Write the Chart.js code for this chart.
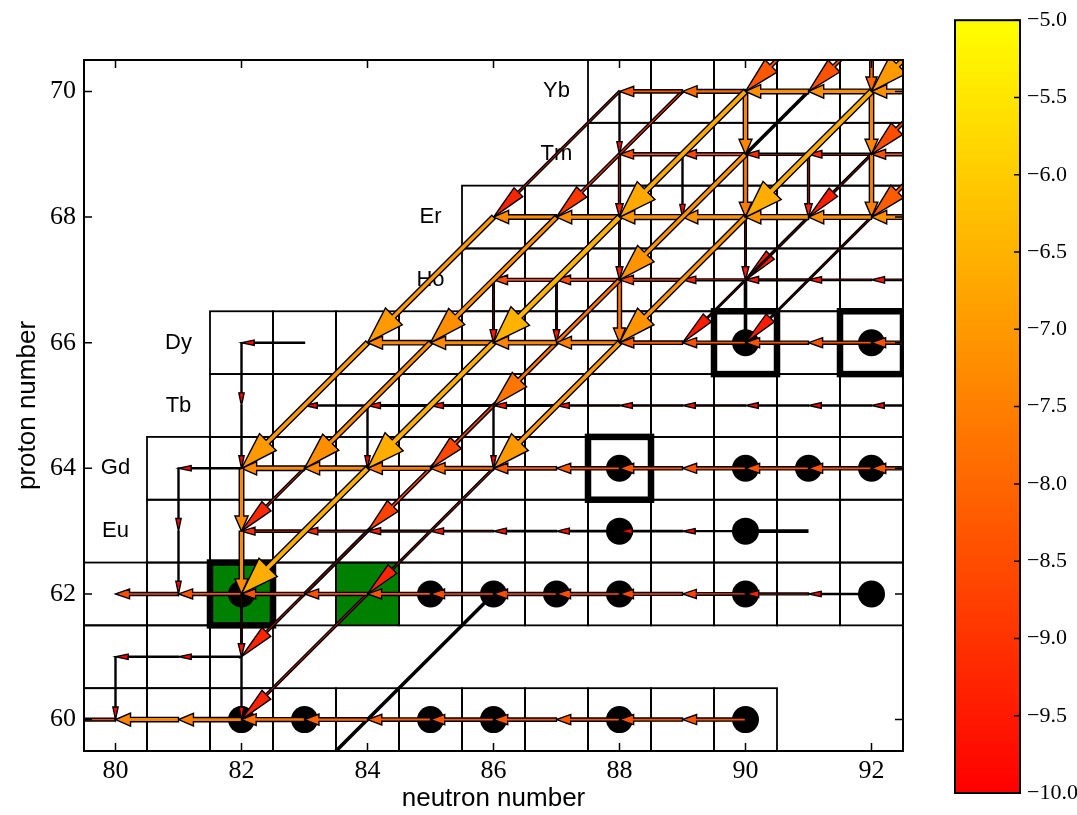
<!DOCTYPE html>
<html>
<head>
<meta charset="utf-8">
<script src="https://cdn.jsdelivr.net/npm/chart.js@4.4.1/dist/chart.umd.min.js"></script>
<style>
  html, body { margin: 0; padding: 0; background: #fff; }
  #main { position: absolute; left: 0; top: 0; }
  #cbar { position: absolute; left: 940px; top: 0; }
</style>
</head>
<body>
<canvas id="main" width="1077" height="815"></canvas>
<canvas id="cbar" width="137" height="815"></canvas>
<script>
// ---- axis ticks ----
const neutronTicks = [80, 82, 84, 86, 88, 90, 92];
const protonTicks = [60, 62, 64, 66, 68, 70];
const colorbarTicks = [-5.0, -5.5, -6.0, -6.5, -7.0, -7.5, -8.0, -8.5, -9.0, -9.5, -10.0];
const flowMin = -10;
const flowMax = -5;

// ---- nuclide cells: one row per proton number, first and last neutron number ----
const rowZ   = [70, 69, 68, 67, 66, 65, 64, 63, 62, 61, 60];
const rowNlo = [88, 88, 86, 86, 82, 82, 81, 81, 80, 80, 80];
const rowNhi = [92, 92, 92, 92, 92, 92, 92, 92, 92, 82, 90];

// ---- element symbols ----
const elementZ   = [70, 69, 68, 67, 66, 65, 64, 63];
const elementSym = ['Yb', 'Tm', 'Er', 'Ho', 'Dy', 'Tb', 'Gd', 'Eu'];

// ---- stable nuclei ----
const stableN = [90, 92, 88, 90, 91, 92, 88, 90, 82, 85, 86, 87, 88, 90, 92, 82, 83, 85, 86, 88, 90];
const stableZ = [66, 66, 64, 64, 64, 64, 63, 63, 62, 62, 62, 62, 62, 62, 62, 60, 60, 60, 60, 60, 60];

// ---- p-nuclei (framed) and shaded cells ----
const pNucleiN = [82, 88, 90, 92];
const pNucleiZ = [62, 64, 66, 66];
const shadedN = [82, 84];
const shadedZ = [62, 62];

// ---- reaction flows: [N, Z, log10 flow] of the decaying nucleus ----
// (gamma,n): (N,Z) -> (N-1,Z)
const flowGammaN = [
  [93, 70, -7.2], [92, 70, -7.2], [91, 70, -7.2], [90, 70, -7.9], [89, 70, -8.3],
  [93, 69, -8.4], [92, 69, -9.2], [91, 69, -9.2], [90, 69, -8.6], [89, 69, -8.5],
  [93, 68, -7.2], [92, 68, -7.2], [91, 68, -7.1], [90, 68, -7.1], [89, 68, -7.1], [88, 68, -7.2], [87, 68, -7.3],
  [93, 67, -9.6], [92, 67, -9.6], [91, 67, -9.5], [90, 67, -9.3], [89, 67, -8.6], [88, 67, -8.5], [87, 67, -8.5],
  [93, 66, -8.4], [92, 66, -8.4], [91, 66, -8.4], [90, 66, -8.4], [89, 66, -8.2], [88, 66, -7.5], [87, 66, -7.4],
  [86, 66, -7.3], [85, 66, -7.4], [83, 66, -10.2],
  [93, 65, -9.9], [92, 65, -9.9], [91, 65, -9.9], [90, 65, -9.8], [89, 65, -9.8], [88, 65, -9.8], [87, 65, -9.7],
  [86, 65, -9.7], [85, 65, -9.7], [84, 65, -9.9],
  [93, 64, -8.3], [92, 64, -8.4], [91, 64, -8.4], [90, 64, -8.4], [89, 64, -8.3], [88, 64, -8.3], [87, 64, -8.2],
  [86, 64, -7.9], [85, 64, -7.6], [84, 64, -7.3], [83, 64, -7.3], [82, 64, -10.2],
  [91, 63, -10.6], [90, 63, -10.0], [89, 63, -9.9], [88, 63, -9.8], [87, 63, -9.7], [86, 63, -9.6], [85, 63, -9.5],
  [84, 63, -9.3], [83, 63, -9.1],
  [92, 62, -10.1], [91, 62, -9.4], [90, 62, -8.7], [89, 62, -8.6], [88, 62, -8.5], [87, 62, -8.5], [86, 62, -8.5],
  [85, 62, -8.4], [84, 62, -8.4], [83, 62, -8.4], [82, 62, -8.4], [81, 62, -8.5],
  [82, 61, -10.3], [81, 61, -10.3],
  [90, 60, -8.4], [89, 60, -8.4], [88, 60, -8.3], [87, 60, -8.3], [86, 60, -8.3], [85, 60, -8.2], [84, 60, -8.0],
  [83, 60, -7.8], [82, 60, -7.5], [81, 60, -7.4], [80, 60, -8.6]
];
// (gamma,p): (N,Z) -> (N,Z-1)
const flowGammaP = [
  [92, 71, -8.0], [92, 70, -7.4], [90, 70, -7.4], [88, 70, -10.0],
  [92, 69, -7.5], [91, 69, -9.3], [90, 69, -7.6], [89, 69, -10.2], [88, 69, -9.3],
  [90, 68, -9.5], [88, 68, -9.5],
  [90, 67, -10.6], [88, 67, -7.7], [87, 67, -9.6], [86, 67, -9.5],
  [82, 66, -10.2],
  [86, 65, -10.2], [84, 65, -10.2], [82, 65, -10.2],
  [82, 64, -7.3], [81, 64, -10.3],
  [82, 63, -7.3], [81, 63, -10.3],
  [82, 62, -9.6],
  [82, 61, -10.2], [80, 61, -10.3]
];
// (gamma,alpha): (N,Z) -> (N-2,Z-2)
const flowGammaA = [
  [94, 72, -7.0], [93, 72, -8.4], [92, 72, -8.3], [94, 71, -8.5],
  [94, 70, -8.2], [93, 70, -9.4], [92, 70, -6.6], [91, 70, -10.8], [90, 70, -6.7], [89, 70, -8.9], [88, 70, -9.3],
  [92, 69, -9.5], [90, 69, -7.1],
  [92, 68, -9.5], [91, 68, -9.5], [90, 68, -7.1], [88, 68, -6.5], [87, 68, -7.2], [86, 68, -7.0],
  [88, 67, -7.7],
  [88, 66, -7.0], [87, 66, -8.6], [86, 66, -6.6], [85, 66, -7.2], [84, 66, -7.0],
  [86, 65, -8.7], [84, 65, -9.2],
  [86, 64, -9.3], [85, 64, -10.8], [84, 64, -6.6],
  [84, 63, -9.3],
  [86, 62, -10.8], [84, 62, -9.3], [84, 60, -10.8]
];

// flows weaker than this are drawn as plain black lines
const lineOnlyBelow = -10.5;

function flowFraction(v) {
  return Math.max(0, Math.min(1, (v - flowMin) / (flowMax - flowMin)));
}
// 'autumn' colour map: red -> yellow
function flowColor(v) {
  return 'rgb(255,' + Math.round(255 * flowFraction(v)) + ',0)';
}

function drawArrow(ctx, x0, y0, x1, y1, v) {
  const dx = x1 - x0, dy = y1 - y0;
  const L = Math.hypot(dx, dy);
  const ux = dx / L, uy = dy / L;
  const nx = -uy, ny = ux;
  if (v < lineOnlyBelow) {
    ctx.strokeStyle = '#000';
    ctx.lineWidth = 3.6;
    ctx.beginPath();
    ctx.moveTo(x0, y0);
    ctx.lineTo(x1, y1);
    ctx.stroke();
    return;
  }
  const t = flowFraction(v);
  const w = 1.0 + 6.5 * t;
  const hw = (3.0 * w + 4) * Math.sqrt(L / 110);
  const hl = 0.19 * L + 0.7 * w;
  const bx = x1 - ux * hl, by = y1 - uy * hl;
  ctx.beginPath();
  ctx.moveTo(x0 + nx * w / 2, y0 + ny * w / 2);
  ctx.lineTo(bx + nx * w / 2, by + ny * w / 2);
  ctx.lineTo(bx + nx * hw / 2, by + ny * hw / 2);
  ctx.lineTo(x1, y1);
  ctx.lineTo(bx - nx * hw / 2, by - ny * hw / 2);
  ctx.lineTo(bx - nx * w / 2, by - ny * w / 2);
  ctx.lineTo(x0 - nx * w / 2, y0 - ny * w / 2);
  ctx.closePath();
  ctx.fillStyle = flowColor(v);
  ctx.fill();
  ctx.strokeStyle = '#000';
  ctx.lineWidth = 1.4;
  ctx.stroke();
}

const nuclidePlugin = {
  id: 'nuclideChart',
  beforeDatasetsDraw(chart) {
    const { ctx, chartArea: a, scales: { x, y } } = chart;
    const px = n => x.getPixelForValue(n);
    const py = z => y.getPixelForValue(z);
    ctx.save();
    ctx.beginPath();
    ctx.rect(a.left, a.top, a.right - a.left, a.bottom - a.top);
    ctx.clip();

    ctx.fillStyle = '#008000';
    shadedN.forEach((n, i) => {
      const z = shadedZ[i];
      ctx.fillRect(px(n - 0.5), py(z + 0.5), px(n + 0.5) - px(n - 0.5), py(z - 0.5) - py(z + 0.5));
    });

    ctx.strokeStyle = '#000';
    ctx.lineWidth = 1.8;
    rowZ.forEach((z, i) => {
      for (let n = rowNlo[i]; n <= rowNhi[i]; n++) {
        ctx.strokeRect(px(n - 0.5), py(z + 0.5), px(n + 0.5) - px(n - 0.5), py(z - 0.5) - py(z + 0.5));
      }
    });

    ctx.fillStyle = '#000';
    ctx.font = '22px "Liberation Sans", Arial, sans-serif';
    ctx.textAlign = 'center';
    ctx.textBaseline = 'middle';
    elementSym.forEach((s, i) => {
      const z = elementZ[i];
      const n = rowNlo[rowZ.indexOf(z)] - 1;
      ctx.fillText(s, px(n), py(z));
    });

    ctx.lineWidth = 6.5;
    pNucleiN.forEach((n, i) => {
      const z = pNucleiZ[i];
      ctx.strokeRect(px(n - 0.5), py(z + 0.5), px(n + 0.5) - px(n - 0.5), py(z - 0.5) - py(z + 0.5));
    });
    ctx.restore();
  },
  afterDatasetsDraw(chart) {
    const { ctx, chartArea: a, scales: { x, y } } = chart;
    const px = n => x.getPixelForValue(n);
    const py = z => y.getPixelForValue(z);
    ctx.save();
    ctx.beginPath();
    ctx.rect(a.left, a.top, a.right - a.left, a.bottom - a.top);
    ctx.clip();
    ctx.lineJoin = 'miter';
    const arrows = [];
    flowGammaN.forEach(([n, z, v]) => arrows.push([n, z, n - 1, z, v]));
    flowGammaP.forEach(([n, z, v]) => arrows.push([n, z, n, z - 1, v]));
    flowGammaA.forEach(([n, z, v]) => arrows.push([n, z, n - 2, z - 2, v]));
    arrows.sort((p, q) => p[4] - q[4]);
    arrows.forEach(([n0, z0, n1, z1, v]) => drawArrow(ctx, px(n0), py(z0), px(n1), py(z1), v));
    ctx.restore();

    // frame and inward tick marks on all four sides
    ctx.save();
    ctx.strokeStyle = '#000';
    ctx.lineWidth = 2;
    ctx.strokeRect(a.left, a.top, a.right - a.left, a.bottom - a.top);
    ctx.lineWidth = 1.5;
    ctx.beginPath();
    neutronTicks.forEach(n => {
      const xx = px(n);
      ctx.moveTo(xx, a.bottom); ctx.lineTo(xx, a.bottom - 8);
      ctx.moveTo(xx, a.top); ctx.lineTo(xx, a.top + 8);
    });
    protonTicks.forEach(z => {
      const yy = py(z);
      ctx.moveTo(a.left, yy); ctx.lineTo(a.left + 8, yy);
      ctx.moveTo(a.right, yy); ctx.lineTo(a.right - 8, yy);
    });
    ctx.stroke();
    ctx.restore();
  }
};

const serifTicks = { family: '"Liberation Serif", "Times New Roman", serif', size: 26 };
const sansTitle = { family: '"Liberation Sans", Arial, sans-serif', size: 26 };

new Chart(document.getElementById('main'), {
  type: 'scatter',
  data: {
    datasets: [{
      label: 'stable',
      data: stableN.map((n, i) => ({ x: n, y: stableZ[i] })),
      pointRadius: 13.5,
      pointHoverRadius: 13.5,
      backgroundColor: '#000',
      borderWidth: 0
    }]
  },
  options: {
    responsive: false,
    animation: false,
    devicePixelRatio: 1,
    events: [],
    layout: { padding: { left: 0, top: 60, right: 174, bottom: 0 } },
    plugins: { legend: { display: false }, tooltip: { enabled: false } },
    scales: {
      x: {
        type: 'linear',
        min: 79.5,
        max: 92.5,
        afterBuildTicks: s => { s.ticks = neutronTicks.map(v => ({ value: v })); },
        afterFit: s => { s.height = 64; },
        ticks: { font: serifTicks, color: '#000', padding: 5, maxRotation: 0 },
        grid: { display: false, drawTicks: false },
        border: { display: false },
        title: { display: true, text: 'neutron number', font: sansTitle, color: '#000', padding: { top: 0, bottom: 1 } }
      },
      y: {
        type: 'linear',
        min: 59.5,
        max: 70.5,
        afterBuildTicks: s => { s.ticks = protonTicks.map(v => ({ value: v })); },
        afterFit: s => { s.width = 84; },
        ticks: { font: serifTicks, color: '#000', padding: 8 },
        grid: { display: false, drawTicks: false },
        border: { display: false },
        title: { display: true, text: 'proton number', font: sansTitle, color: '#000', padding: { top: 12, bottom: 0 } }
      }
    }
  },
  plugins: [nuclidePlugin]
});

// ---- colour bar ----
const colorbarFrame = {
  id: 'colorbarFrame',
  afterDatasetsDraw(chart) {
    const { ctx, chartArea: a, scales: { y } } = chart;
    ctx.save();
    ctx.strokeStyle = '#000';
    ctx.lineWidth = 1.5;
    ctx.beginPath();
    colorbarTicks.forEach(v => {
      const yy = y.getPixelForValue(v);
      ctx.moveTo(a.right, yy); ctx.lineTo(a.right - 6, yy);
    });
    ctx.stroke();
    ctx.lineWidth = 2;
    ctx.strokeRect(a.left, a.top, a.right - a.left, a.bottom - a.top);
    ctx.restore();
  }
};

new Chart(document.getElementById('cbar'), {
  type: 'bar',
  data: {
    labels: ['log flow'],
    datasets: [{
      data: [[flowMin, flowMax]],
      barPercentage: 1,
      categoryPercentage: 1,
      borderWidth: 0,
      backgroundColor: c => {
        const { ctx, chartArea } = c.chart;
        if (!chartArea) return flowColor(flowMin);
        const g = ctx.createLinearGradient(0, chartArea.bottom, 0, chartArea.top);
        g.addColorStop(0, flowColor(flowMin));
        g.addColorStop(1, flowColor(flowMax));
        return g;
      }
    }]
  },
  options: {
    responsive: false,
    animation: false,
    devicePixelRatio: 1,
    events: [],
    layout: { padding: { left: 15, top: 17, right: 0, bottom: 22 } },
    plugins: { legend: { display: false }, tooltip: { enabled: false } },
    scales: {
      x: { display: false },
      y: {
        position: 'right',
        min: flowMin,
        max: flowMax,
        afterBuildTicks: s => { s.ticks = colorbarTicks.map(v => ({ value: v })); },
        afterFit: s => { s.width = 57; },
        ticks: {
          font: { family: '"Liberation Serif", "Times New Roman", serif', size: 22 },
          color: '#000',
          padding: 7,
          callback: v => (v < 0 ? '\u2212' : '') + Math.abs(v).toFixed(1)
        },
        grid: { display: false, drawTicks: false },
        border: { display: false }
      }
    }
  },
  plugins: [colorbarFrame]
});
</script>
</body>
</html>
